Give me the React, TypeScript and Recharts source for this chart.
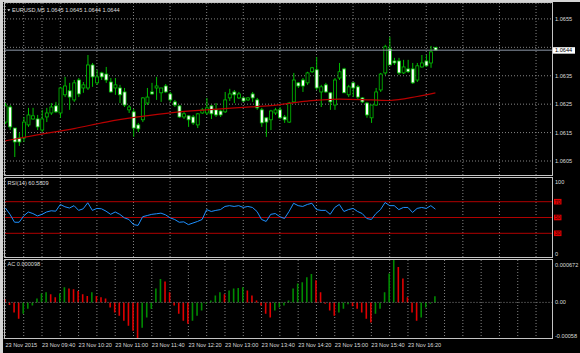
import React from "react";
import { ComposedChart, LineChart, BarChart, Bar, Line, XAxis, YAxis, CartesianGrid, ReferenceLine, Cell } from "recharts";

// EURUSD M5, 23 Nov 2015, one bar per 5 minutes from 09:00
const open = [
    1.06187, 1.06240, 1.06166, 1.06131, 1.06131, 1.06177, 1.06198, 1.06198, 1.06159, 1.06205,
    1.06219, 1.06244, 1.06219, 1.06283, 1.06297, 1.06265, 1.06335, 1.06307, 1.06307, 1.06388,
    1.06325, 1.06360, 1.06356, 1.06328, 1.06307, 1.06307, 1.06293, 1.06230, 1.06223, 1.06177,
    1.06195, 1.06254, 1.06293, 1.06307, 1.06290, 1.06314, 1.06286, 1.06258, 1.06244, 1.06205,
    1.06209, 1.06205, 1.06177, 1.06219, 1.06219, 1.06244, 1.06230, 1.06226, 1.06223, 1.06272,
    1.06293, 1.06272, 1.06272, 1.06265, 1.06286, 1.06265, 1.06230, 1.06202, 1.06195, 1.06219,
    1.06230, 1.06205, 1.06187, 1.06258, 1.06325, 1.06335, 1.06325, 1.06364, 1.06371, 1.06293,
    1.06318, 1.06290, 1.06247, 1.06342, 1.06374, 1.06283, 1.06325, 1.06311, 1.06272, 1.06254,
    1.06202, 1.06247, 1.06300, 1.06360, 1.06444, 1.06402, 1.06402, 1.06360, 1.06374, 1.06374,
    1.06335, 1.06381, 1.06402, 1.06395, 1.06450,
];
const high = [
    1.06254, 1.06247, 1.06166, 1.06149, 1.06205, 1.06237, 1.06237, 1.06212, 1.06230, 1.06237,
    1.06254, 1.06258, 1.06311, 1.06346, 1.06325, 1.06335, 1.06342, 1.06328, 1.06423, 1.06395,
    1.06371, 1.06364, 1.06381, 1.06342, 1.06342, 1.06318, 1.06307, 1.06247, 1.06233, 1.06184,
    1.06275, 1.06307, 1.06325, 1.06346, 1.06307, 1.06321, 1.06293, 1.06265, 1.06247, 1.06223,
    1.06212, 1.06212, 1.06219, 1.06237, 1.06272, 1.06247, 1.06254, 1.06230, 1.06293, 1.06304,
    1.06300, 1.06293, 1.06275, 1.06275, 1.06293, 1.06272, 1.06237, 1.06205, 1.06230, 1.06237,
    1.06240, 1.06212, 1.06258, 1.06360, 1.06328, 1.06342, 1.06364, 1.06381, 1.06416, 1.06318,
    1.06325, 1.06293, 1.06342, 1.06395, 1.06378, 1.06318, 1.06328, 1.06318, 1.06275, 1.06258,
    1.06247, 1.06307, 1.06360, 1.06459, 1.06487, 1.06413, 1.06413, 1.06406, 1.06406, 1.06395,
    1.06395, 1.06423, 1.06423, 1.06455, 1.06450,
];
const low = [
    1.06180, 1.06159, 1.06064, 1.06103, 1.06117, 1.06170, 1.06195, 1.06159, 1.06152, 1.06187,
    1.06212, 1.06219, 1.06202, 1.06275, 1.06230, 1.06258, 1.06275, 1.06290, 1.06300, 1.06311,
    1.06318, 1.06335, 1.06325, 1.06290, 1.06283, 1.06254, 1.06240, 1.06219, 1.06135, 1.06152,
    1.06187, 1.06247, 1.06283, 1.06265, 1.06258, 1.06290, 1.06258, 1.06240, 1.06202, 1.06198,
    1.06170, 1.06177, 1.06166, 1.06216, 1.06212, 1.06198, 1.06205, 1.06205, 1.06219, 1.06261,
    1.06254, 1.06268, 1.06258, 1.06261, 1.06258, 1.06230, 1.06170, 1.06135, 1.06159, 1.06212,
    1.06198, 1.06184, 1.06184, 1.06254, 1.06307, 1.06293, 1.06318, 1.06360, 1.06300, 1.06240,
    1.06290, 1.06230, 1.06230, 1.06335, 1.06290, 1.06275, 1.06275, 1.06265, 1.06254, 1.06202,
    1.06184, 1.06244, 1.06293, 1.06353, 1.06388, 1.06388, 1.06353, 1.06356, 1.06360, 1.06321,
    1.06328, 1.06378, 1.06381, 1.06378, 1.06440,
];
const close = [
    1.06244, 1.06170, 1.06117, 1.06117, 1.06187, 1.06212, 1.06209, 1.06170, 1.06198, 1.06219,
    1.06240, 1.06223, 1.06307, 1.06314, 1.06275, 1.06325, 1.06286, 1.06318, 1.06388, 1.06346,
    1.06346, 1.06346, 1.06335, 1.06293, 1.06318, 1.06283, 1.06247, 1.06240, 1.06166, 1.06163,
    1.06272, 1.06275, 1.06286, 1.06314, 1.06307, 1.06293, 1.06265, 1.06247, 1.06205, 1.06216,
    1.06195, 1.06184, 1.06216, 1.06230, 1.06237, 1.06216, 1.06212, 1.06212, 1.06265, 1.06286,
    1.06283, 1.06286, 1.06261, 1.06272, 1.06272, 1.06237, 1.06184, 1.06187, 1.06226, 1.06230,
    1.06202, 1.06195, 1.06254, 1.06335, 1.06314, 1.06314, 1.06360, 1.06378, 1.06307, 1.06311,
    1.06293, 1.06258, 1.06335, 1.06364, 1.06290, 1.06311, 1.06307, 1.06275, 1.06258, 1.06212,
    1.06247, 1.06293, 1.06356, 1.06452, 1.06388, 1.06395, 1.06360, 1.06381, 1.06364, 1.06325,
    1.06385, 1.06395, 1.06385, 1.06434, 1.06440,
];

// moving average, read at a few bars
const maBars = [0, 7, 15, 22, 29, 37, 44, 51, 58, 66, 73, 80, 84, 90, 94];
const maValues = [1.06121, 1.06142, 1.06164, 1.06187, 1.06205, 1.06221, 1.06230, 1.06238, 1.06245, 1.06261, 1.06268, 1.06265, 1.06263, 1.06277, 1.06290];

const rsi = [
    62, 54, 44, 44, 52, 57, 55, 52, 54, 57,
    58.5, 58, 66.5, 63.6, 62, 65, 59, 61, 68.7, 59,
    61.5, 61, 58, 54, 57, 54, 49.6, 47.5, 41, 40,
    51, 52.5, 54, 54.7, 55.5, 53.4, 49.6, 47.5, 44, 44.5,
    41, 43, 45, 47.5, 60, 57.6, 59, 60, 64, 65,
    64, 65, 62.7, 64, 62.7, 57.6, 47.5, 45, 54, 55,
    51, 48.7, 57.6, 68, 65, 64, 66.5, 68, 60, 59,
    59, 54, 62.7, 66.5, 57.6, 60, 61.5, 57.6, 55, 48.7,
    47.5, 55, 60, 69, 65, 65, 60, 62.7, 62.7, 56.4,
    61.5, 62.7, 61.5, 65, 60.58,
];

const ac = [
    0.00005, -0.00004, -0.00016, -0.00026, -0.00018, -0.0001, -0.00005, 0.00006, 0.00014, 0.00016,
    0.00013, 0.00008, 0.00014, 0.00024, 0.00022, 0.00021, 0.00018, 0.00013, 0.0001, 0.00016,
    0.0001, 0.00008, 0.00006, -0.00008, -0.00016, -0.00021, -0.00029, -0.00037, -0.00045, -0.00058,
    -0.0004, -0.00024, -0.0001, 0.00022, 0.00037, 0.00033, 0.00016, -0.00005, -0.00018, -0.00029,
    -0.00034, -0.00029, -0.00021, -0.00013, -0.00002, 0.00003, 0.00011, 0.00016, 0.00013, 0.00019,
    0.00022, 0.00023, 0.00024, 0.00019, 0.00011, 0.00003, -0.00005, -0.00018, -0.00024, -0.00013,
    -0.00008, -0.00005, 0.00003, 0.00022, 0.0003, 0.00032, 0.0004, 0.00045, 0.00035, 0.00016,
    -0.00002, -0.00013, -0.00021, -0.00016, -0.0001, -0.00003, -0.00006, -0.0001, -0.00016, -0.00026,
    -0.00032, -0.00018, -0.0001, 0.00016, 0.00046, 0.000672, 0.00056, 0.00038, 0.00008, -0.00016,
    -0.00029, -0.00024, -0.00008, -0.00002, 0.000098,
];

const timeLabels = [
    "23 Nov 2015", "23 Nov 09:40", "23 Nov 10:20", "23 Nov 11:00", "23 Nov 11:40", "23 Nov 12:20",
    "23 Nov 13:00", "23 Nov 13:40", "23 Nov 14:20", "23 Nov 15:00", "23 Nov 15:40", "23 Nov 16:20",
];
const priceTicks = [1.0605, 1.0615, 1.0625, 1.0635, 1.0645, 1.0655];
const bidPrice = 1.0644;
const rsiTicks = [0, 30, 50, 70, 100];
const rsiLevels = [30, 50, 70];
const acTicks = [-0.00058, 0, 0.000672];
const acTickText = ["-0.00058", "0.00", "0.000672"];

const gridBars = Array.from({ length: 30 }, (_, k) => k * 4);
const X_DOMAIN: [number, number] = [-0.31, 119.6];
const FONT = "'Liberation Sans', Arial, sans-serif";
const FS = 5.6;
const TXT = "#dcdcdc";
const GRID = "#858585";
const CANDLE = "#00c000";

const rows = open.map((o, i) => ({
    i,
    open: o,
    high: high[i],
    low: low[i],
    close: close[i],
    range: [low[i], high[i]],
    ma: maBars.includes(i) ? maValues[maBars.indexOf(i)] : null,
    rsi: rsi[i],
    ac: ac[i],
}));

function Candle(props: any) {
    const { x, y, width, height, payload } = props;
    if (x == null || !payload) return null;
    const top = Math.min(y, y + height);
    const bot = Math.max(y, y + height);
    const span = payload.high - payload.low;
    const pix = (v: number) => (span > 0 ? top + ((payload.high - v) / span) * (bot - top) : top);
    const cx = x + width / 2;
    const yo = pix(payload.open);
    const yc = pix(payload.close);
    const bull = payload.close >= payload.open;
    return (
        <g>
            <line x1={cx} x2={cx} y1={top} y2={bot} stroke={CANDLE} strokeWidth={1} />
            <rect
                x={cx - 1.5} y={Math.min(yo, yc)}
                width={3} height={Math.max(Math.abs(yc - yo), 1)}
                fill={bull ? "#000" : "#fff"} stroke={CANDLE} strokeWidth={0.8} />
        </g>
    );
}

function PriceTick({ x, y, payload }: any) {
    if (payload.value === 1.0645) return null;
    return (
        <text x={x + 2.5} y={y + 2} fill={TXT} fontSize={FS} fontFamily={FONT}>
            {payload.value.toFixed(4)}
        </text>
    );
}

function BidTag({ viewBox }: any) {
    if (!viewBox) return null;
    const x = viewBox.x + viewBox.width;
    const y = viewBox.y;
    return (
        <g>
            <rect x={x + 0.5} y={y - 3} width={22} height={6.5} fill="#fff" />
            <text x={x + 2.5} y={y + 2} fill="#000" fontSize={FS} fontFamily={FONT}>
                {bidPrice.toFixed(4)}
            </text>
        </g>
    );
}

function RsiTick({ x, y, payload }: any) {
    const v = payload.value;
    if (rsiLevels.includes(v)) {
        return (
            <g>
                <rect x={x + 1.5} y={y - 2.8} width={7.5} height={5.6} fill="#e00000" />
                <text x={x + 2.3} y={y + 1.9} fill="#300000" fontSize={5} fontFamily={FONT}>{v}</text>
            </g>
        );
    }
    const dy = v === 100 ? 6 : -1;
    return (
        <text x={x + 2.5} y={y + dy} fill={TXT} fontSize={FS} fontFamily={FONT}>{v}</text>
    );
}

function AcTick({ x, y, payload }: any) {
    const v = payload.value;
    const k = acTicks.indexOf(v);
    const dy = v > 0 ? 6.5 : v < 0 ? -1.5 : 2;
    return (
        <text x={x + 2.5} y={y + dy} fill={TXT} fontSize={FS} fontFamily={FONT}>{acTickText[k]}</text>
    );
}

function TimeTick({ x, y, payload }: any) {
    const v = payload.value;
    if (v % 8 !== 0 || !timeLabels[v / 8]) return null;
    return (
        <text x={x} y={y + 8} fill={TXT} fontSize={FS} fontFamily={FONT}>{timeLabels[v / 8]}</text>
    );
}

const panel = (top: number, height: number): React.CSSProperties => ({
    position: "absolute", left: 4, top, width: 549, height,
    border: "1px solid #c4c4c4", boxSizing: "border-box", pointerEvents: "none",
});

export default function App() {
    return (
        <div
            style={{
                position: "absolute", left: 0, top: 0, width: 580, height: 353,
                background: "#000", overflow: "hidden",
            }}>
            <div style={{ position: "absolute", left: 0, top: 0, width: 580, height: 2, background: "#d4d4d4" }} />
            <div style={{ position: "absolute", left: 0, top: 0, width: 3, height: 353, background: "#d4d4d4" }} />

            <div style={{ position: "absolute", left: 0, top: 0 }}>
                <ComposedChart width={580} height={176} data={rows} margin={{ top: 3, right: 0, bottom: 0.5, left: 4 }}>
                    <CartesianGrid stroke={GRID} strokeDasharray="1 2" />
                    <XAxis type="number" dataKey="i" domain={X_DOMAIN} ticks={gridBars} hide allowDataOverflow />
                    <YAxis
                        orientation="right" domain={[1.05999, 1.06606]} ticks={priceTicks} interval={0}
                        allowDataOverflow width={27.5} axisLine={false} tickLine={false}
                        tickSize={0} tickMargin={0} tick={<PriceTick />} />
                    <ReferenceLine y={bidPrice} stroke="#8c96a6" strokeWidth={1} label={<BidTag />} />
                    <Bar dataKey="range" barSize={3} isAnimationActive={false} shape={(p: any) => <Candle {...p} />} />
                    <Line
                        type="monotone" dataKey="ma" connectNulls stroke="#b80000" strokeWidth={1.2}
                        dot={false} isAnimationActive={false} />
                </ComposedChart>
            </div>

            <div style={{ position: "absolute", left: 0, top: 178 }}>
                <LineChart width={580} height={79} data={rows} margin={{ top: 0, right: 0, bottom: 0, left: 4 }}>
                    <CartesianGrid stroke={GRID} strokeDasharray="1 2" horizontal={false} />
                    <XAxis type="number" dataKey="i" domain={X_DOMAIN} ticks={gridBars} hide allowDataOverflow />
                    <YAxis
                        orientation="right" domain={[0, 100]} ticks={rsiTicks} interval={0}
                        width={27.5} axisLine={false} tickLine={false} tickSize={0} tickMargin={0}
                        tick={<RsiTick />} />
                    {rsiLevels.map(l => (
                        <ReferenceLine key={l} y={l} stroke="#b00000" strokeWidth={1} />
                    ))}
                    <Line
                        type="linear" dataKey="rsi" stroke="#1e90ff" strokeWidth={1}
                        dot={false} isAnimationActive={false} />
                </LineChart>
            </div>

            <div style={{ position: "absolute", left: 0, top: 259.5 }}>
                <BarChart width={580} height={93.5} data={rows} margin={{ top: 0, right: 0, bottom: 0, left: 4 }}>
                    <CartesianGrid stroke={GRID} strokeDasharray="1 2" horizontal={false} />
                    <XAxis
                        type="number" dataKey="i" domain={X_DOMAIN} ticks={gridBars} interval={0}
                        allowDataOverflow height={14.5} axisLine={false} tickLine={false}
                        tickSize={0} tickMargin={0} tick={<TimeTick />} />
                    <YAxis
                        orientation="right" domain={[-0.00058, 0.000672]} ticks={acTicks} interval={0}
                        allowDataOverflow width={27.5} axisLine={false} tickLine={false}
                        tickSize={0} tickMargin={0} tick={<AcTick />} />
                    <ReferenceLine y={0} stroke={GRID} strokeDasharray="1 2" />
                    <Bar dataKey="ac" barSize={1.6} isAnimationActive={false}>
                        {rows.map((r, i) => (
                            <Cell key={i} fill={i > 0 && r.ac > ac[i - 1] ? "#008a00" : "#e00000"} />
                        ))}
                    </Bar>
                </BarChart>
            </div>

            <div style={panel(2, 174)} />
            <div style={panel(177, 81)} />
            <div style={panel(259, 80)} />

            <svg width={580} height={353} style={{ position: "absolute", left: 0, top: 0, pointerEvents: "none" }}>
                <polygon points="7.3,9.3 10.3,9.3 8.8,11.3" fill="#e8e8e8" />
                <text x={12} y={12.3} fill={TXT} fontSize={FS} fontFamily={FONT}>
                    EURUSD,M5  1.0645 1.0645 1.0644 1.0644
                </text>
                <text x={7.5} y={185} fill={TXT} fontSize={FS} fontFamily={FONT}>RSI(14) 60.5809</text>
                <text x={7.5} y={266} fill={TXT} fontSize={FS} fontFamily={FONT}>AC 0.000098</text>
            </svg>
        </div>
    );
}
